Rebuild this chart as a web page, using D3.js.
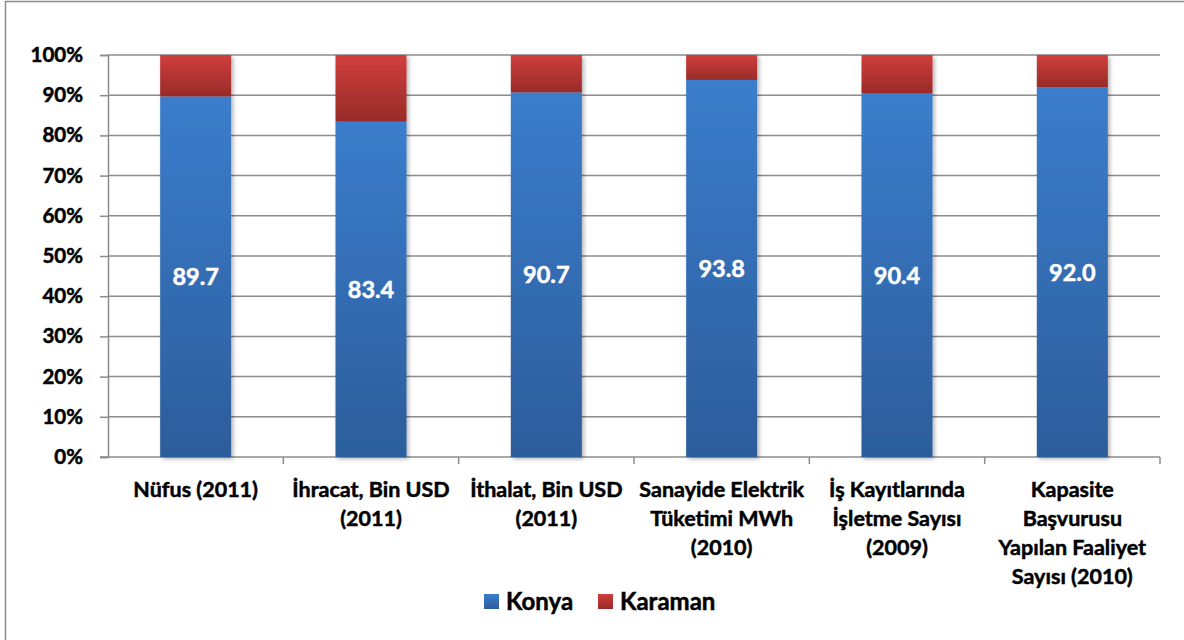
<!DOCTYPE html>
<html>
<head>
<meta charset="utf-8">
<script src="https://cdn.jsdelivr.net/npm/d3@7"></script>
<style>
  body { margin: 0; background: #fff; }
  svg { display: block; font-family: Lato, "Open Sans", sans-serif; }
  .bold { font-weight: bold; stroke-width: 0.5px; paint-order: stroke; }
</style>
</head>
<body>
<svg id="chart" width="1184" height="640"></svg>
<script>
const categories = [
  ["Nüfus (2011)"],
  ["İhracat, Bin USD", "(2011)"],
  ["İthalat, Bin USD", "(2011)"],
  ["Sanayide Elektrik", "Tüketimi MWh", "(2010)"],
  ["İş Kayıtlarında", "İşletme Sayısı", "(2009)"],
  ["Kapasite", "Başvurusu", "Yapılan Faaliyet", "Sayısı (2010)"]
];
const konya = [89.7, 83.4, 90.7, 93.8, 90.4, 92.0];
const karaman = konya.map(v => 100 - v);
const seriesNames = ["Konya", "Karaman"];
const yTicks = [0, 10, 20, 30, 40, 50, 60, 70, 80, 90, 100];

const svg = d3.select("#chart");
const plot = { left: 108, right: 1160, top: 55, bottom: 457 };

// outer frame
svg.append("rect")
  .attr("x", 5.5).attr("y", 1.5)
  .attr("width", 1190).attr("height", 650)
  .attr("fill", "none").attr("stroke", "#8c8c8c").attr("stroke-width", 1.5);

const defs = svg.append("defs");
function grad(id, top, bottom) {
  const g = defs.append("linearGradient").attr("id", id)
    .attr("x1", 0).attr("y1", 0).attr("x2", 0).attr("y2", 1);
  g.append("stop").attr("offset", "0%").attr("stop-color", top);
  g.append("stop").attr("offset", "100%").attr("stop-color", bottom);
}
grad("gBlue", "#3b7dcc", "#2c5d9b");
grad("gRed", "#d03e3c", "#982b29");
const sh = defs.append("filter").attr("id", "shadow")
  .attr("x", "-20%").attr("y", "-5%").attr("width", "150%").attr("height", "115%");
sh.append("feDropShadow").attr("dx", 2).attr("dy", 2).attr("stdDeviation", 2)
  .attr("flood-color", "#000").attr("flood-opacity", 0.3);

const x = d3.scaleBand()
  .domain(d3.range(categories.length))
  .range([plot.left, plot.right])
  .paddingInner(0.595).paddingOuter(0.2975);
const y = d3.scaleLinear().domain([0, 100]).range([plot.bottom, plot.top]);

// gridlines
svg.append("g").selectAll("line")
  .data(yTicks.filter(d => d > 0))
  .join("line")
  .attr("x1", plot.left).attr("x2", plot.right)
  .attr("y1", d => y(d)).attr("y2", d => y(d))
  .attr("stroke", "#8c8c8c").attr("stroke-width", 1.5);

// y axis
const yAxis = svg.append("g")
  .attr("transform", `translate(${plot.left},0)`)
  .call(d3.axisLeft(y).tickValues(yTicks).tickFormat(d => d + "%").tickSize(8).tickPadding(17));
yAxis.select(".domain").attr("stroke", "#8c8c8c").attr("stroke-width", 1.5);
yAxis.selectAll(".tick line").attr("stroke", "#8c8c8c").attr("stroke-width", 1.5);
yAxis.selectAll(".tick text")
  .attr("class", "bold")
  .attr("font-size", 20.5).attr("fill", "#000").attr("stroke", "#000")
  .attr("font-family", "Lato, sans-serif");

// x axis line and category ticks
const step = (plot.right - plot.left) / categories.length;
svg.append("line")
  .attr("x1", plot.left - 8).attr("x2", plot.right)
  .attr("y1", plot.bottom).attr("y2", plot.bottom)
  .attr("stroke", "#8c8c8c").attr("stroke-width", 1.5);
svg.append("g").selectAll("line")
  .data(d3.range(1, categories.length + 1))
  .join("line")
  .attr("x1", i => plot.left + i * step).attr("x2", i => plot.left + i * step)
  .attr("y1", plot.bottom).attr("y2", plot.bottom + 7)
  .attr("stroke", "#8c8c8c").attr("stroke-width", 1.5);

// bars
const bars = svg.append("g");
categories.forEach((c, i) => {
  const g = bars.append("g").attr("filter", "url(#shadow)");
  g.append("rect")
    .attr("x", x(i)).attr("width", x.bandwidth())
    .attr("y", y(konya[i])).attr("height", y(0) - y(konya[i]))
    .attr("fill", "url(#gBlue)");
  g.append("rect")
    .attr("x", x(i)).attr("width", x.bandwidth())
    .attr("y", y(100)).attr("height", y(konya[i]) - y(100))
    .attr("fill", "url(#gRed)");
});

// value labels
svg.append("g").selectAll("text")
  .data(konya)
  .join("text")
  .attr("class", "bold")
  .attr("x", (d, i) => x(i) + x.bandwidth() / 2)
  .attr("y", d => y(d / 2))
  .attr("dy", "0.36em")
  .attr("text-anchor", "middle")
  .attr("font-size", 23.5).attr("fill", "#fff").attr("stroke", "#fff")
  .text(d => d.toFixed(1));

// category labels
const catG = svg.append("g");
categories.forEach((lines, i) => {
  const t = catG.append("text")
    .attr("class", "bold")
    .attr("x", x(i) + x.bandwidth() / 2)
    .attr("y", 497)
    .attr("text-anchor", "middle")
    .attr("font-size", 21.5).attr("fill", "#000").attr("stroke", "#000");
  lines.forEach((l, j) => {
    t.append("tspan")
      .attr("x", x(i) + x.bandwidth() / 2)
      .attr("dy", j === 0 ? 0 : 29)
      .text(l);
  });
});

// legend
const legendX = [484, 598];
const fills = ["url(#gBlue)", "url(#gRed)"];
seriesNames.forEach((n, i) => {
  svg.append("rect")
    .attr("x", legendX[i]).attr("y", 594)
    .attr("width", 15).attr("height", 15)
    .attr("fill", fills[i]);
  svg.append("text")
    .attr("class", "bold")
    .attr("x", legendX[i] + 22).attr("y", 610)
    .attr("font-size", 24).attr("fill", "#000").attr("stroke", "#000")
    .text(n);
});
</script>
</body>
</html>
